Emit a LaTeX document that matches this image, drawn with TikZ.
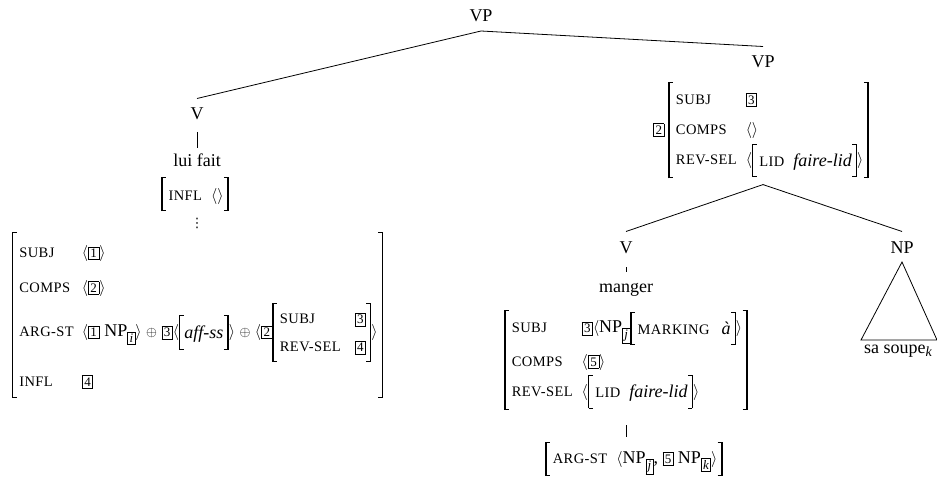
\RequirePackage{fix-cm}
\documentclass[tikz,border=0pt]{standalone}
\usepackage{fontspec}
\setmainfont{Liberation Serif}
\newfontfamily\featfont[LetterSpace=3]{Liberation Serif}
\newfontfamily\dejavu{DejaVu Sans}
\newcommand\ftr[1]{{\featfont\fontsize{14.5}{14.5}\selectfont #1}}
\newcommand\bx[1]{{\setlength\fboxsep{1.7pt}\setlength\fboxrule{0.7pt}\fbox{\fontsize{13}{13}\selectfont #1}}}
\newcommand\sbx[1]{\raisebox{-6pt}{\setlength\fboxsep{1.5pt}\setlength\fboxrule{0.7pt}\fbox{\fontsize{13}{13}\selectfont\itshape #1}}}
\newcommand\la{{\fontsize{16}{16}\selectfont$\langle$}}
\newcommand\ra{{\fontsize{16}{16}\selectfont$\rangle$}}
\newcommand\op{{\fontsize{14}{14}\selectfont\hspace{4.5pt}$\oplus$\hspace{4.5pt}}}
\newsavebox\avmbox
\newlength\bH \newlength\bD \newlength\bHt \newlength\bDt
\newcommand\brk[1]{{%
  \sbox\avmbox{#1}%
  \setlength\bH{\ht\avmbox}\addtolength\bH{1.5pt}%
  \setlength\bD{\dp\avmbox}\addtolength\bD{1.5pt}%
  \setlength\bHt{\bH}\addtolength\bHt{-0.9pt}%
  \setlength\bDt{\bD}\addtolength\bDt{-0.9pt}%
  \hbox{\vrule width1.4pt height\bH depth\bD
    \rlap{\vrule width3.6pt height\bH depth-\bHt}%
    \rlap{\vrule width3.6pt height-\bDt depth\bD}%
    \kern3pt\usebox\avmbox\kern3pt
    \llap{\vrule width3.6pt height\bH depth-\bHt}%
    \llap{\vrule width3.6pt height-\bDt depth\bD}%
    \vrule width1.4pt height\bH depth\bD}}}
\newcommand\avm[3][1.5]{\brk{\renewcommand\arraystretch{#1}\begin{tabular}{@{\hspace{3pt}}l@{\hspace{#2}}l@{\hspace{1pt}}}#3\end{tabular}}}
\newcommand\avmone[2][1.5]{\brk{\renewcommand\arraystretch{#1}\begin{tabular}{@{\hspace{1pt}}l@{\hspace{1pt}}}#2\end{tabular}}}
\tikzset{
  cat/.style={font=\fontsize{18}{21.6}\selectfont, inner sep=0pt, text height=12.5pt, text depth=0pt, outer ysep=9pt, anchor=base},
  lex/.style={font=\fontsize{18}{21.6}\selectfont, inner sep=0pt, text height=12.5pt, text depth=4pt, anchor=base},
  fs/.style={font=\fontsize{18}{21.6}\selectfont, inner sep=0pt},
  branch/.style={line width=0.8pt}
}
\begin{document}
\begin{tikzpicture}[x=1pt,y=-1pt]
\useasboundingbox (0,0) rectangle (937,484);
% top
\node[cat] (vp0) at (481,22) {VP};
% left daughter
\node[cat] (v1) at (197,120) {V};
\node[lex] (lf) at (197,167) {lui fait};
\node[fs] (infl) at (195,194) {\avm[1.45]{9pt}{\ftr{INFL} & \la\ra}};
\node[fs] (dots) at (197,223) {{\dejavu\fontsize{13}{13}\selectfont ⋮}};
\node[fs] (avmL) at (197.5,315) {\avm[1.6]{8pt}{
\ftr{SUBJ} & \la\bx{1}\ra \\
\ftr{COMPS} & \la\bx{2}\ra \\
\ftr{ARG-ST} & \la\bx{1}\hspace{5pt}NP\sbx{i}\ra\op\bx{3}\la\avmone{\textit{aff-ss}}\ra\op\la\bx{2}\avm[1.3]{14pt}{\ftr{SUBJ} & \bx{3}\\ \ftr{REV-SEL} & \bx{4}}\ra \\
\ftr{INFL} & \bx{4}}};
% right daughter
\node[cat] (vp1) at (763,68) {VP};
\node[fs] (avmR) at (761,130) {\bx{2}\hspace{4pt}\avm[1.4]{9pt}{
\ftr{SUBJ} & \bx{3}\\
\ftr{COMPS} & \la\ra \\
\ftr{REV-SEL} & \la\avm[1.4]{9pt}{\ftr{LID} & \textit{faire-lid}}\ra}};
\path (vp1 |- avmR.south) ++(0,6) coordinate (fork);
\node[cat] (v2) at (626,253) {V};
\node[cat] (np) at (902,253) {NP};
\node[lex] (mg) at (626,292) {manger};
\node[fs] (avmM) at (626,360) {\avm[1.4]{9pt}{
\ftr{SUBJ} & \bx{3}\la NP\sbx{j}\avm[1.4]{12pt}{\ftr{MARKING} & \textit{à}}\ra \\
\ftr{COMPS} & \la\bx{5}\ra \\
\ftr{REV-SEL} & \la\avm[1.4]{9pt}{\ftr{LID} & \textit{faire-lid}}\ra}};
\node[fs] (argst) at (634,459) {\avm[1.3]{9pt}{\ftr{ARG-ST} & \la NP\sbx{j}, \bx{5}\hspace{4pt}NP\sbx{k}\ra}};
\node[lex] (ss) at (898,353) {sa soupe\raisebox{-3.5pt}{\fontsize{14}{14}\selectfont\itshape k}};
\coordinate (tl) at (861,340);
\coordinate (tr) at (937,340);
% connectors
\draw[branch] (vp0.south) -- (v1.north);
\draw[branch] (vp0.south) -- (vp1.north);
\draw[branch, shorten <=3pt, shorten >=6pt] (v1.south) -- (lf.north);
\draw[branch] (fork) -- (v2.north);
\draw[branch] (fork) -- (np.north);
\draw[branch, shorten <=5pt, shorten >=7pt] (v2.south) -- (mg.north);
\draw[branch, shorten <=15pt, shorten >=5pt] (avmM.south -| mg) -- (argst.north -| mg);
\draw[branch] (np.south) -- (tl) -- (tr) -- cycle;
\end{tikzpicture}
\end{document}
